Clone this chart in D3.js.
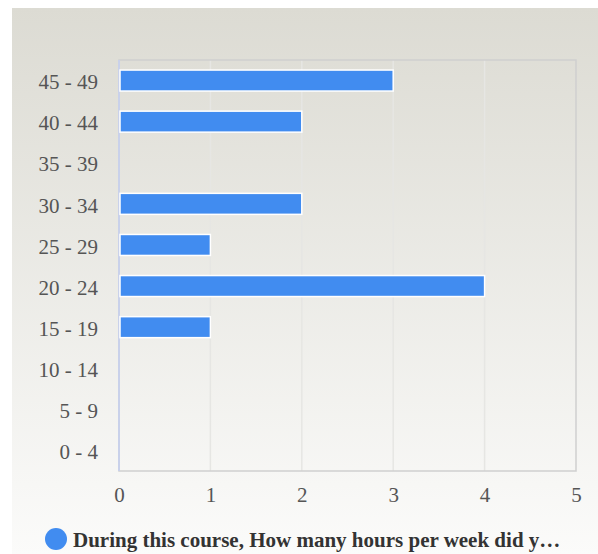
<!DOCTYPE html>
<html>
<head>
<meta charset="utf-8">
<script src="https://cdn.jsdelivr.net/npm/d3@7"></script>
<style>
  body { margin: 0; background: #fff; }
  svg { display: block; }
</style>
</head>
<body>
<div id="chart"></div>
<script>
// hour ranges, top to bottom
var categories = ["45 - 49", "40 - 44", "35 - 39", "30 - 34", "25 - 29",
                  "20 - 24", "15 - 19", "10 - 14", "5 - 9", "0 - 4"];
var counts = [3, 2, 0, 2, 1, 4, 1, 0, 0, 0];
var xTicks = [0, 1, 2, 3, 4, 5];
var seriesName = "During this course, How many hours per week did y\u2026";

var width = 598, height = 554;
var margin = {top: 60, right: 22, bottom: 83, left: 119};
var font = "'Liberation Serif', 'Times New Roman', serif";

var svg = d3.select("#chart").append("svg")
    .attr("width", width)
    .attr("height", height);

// background gradient
var grad = svg.append("defs").append("linearGradient")
    .attr("id", "bg").attr("x1", 0).attr("y1", 0).attr("x2", 0).attr("y2", 1);
grad.append("stop").attr("offset", "0%").attr("stop-color", "#dcdbd3");
grad.append("stop").attr("offset", "100%").attr("stop-color", "#fbfbfa");

svg.append("rect")
    .attr("x", 12).attr("y", 8)
    .attr("width", width - 12).attr("height", height - 8)
    .attr("fill", "url(#bg)");

var x = d3.scaleLinear()
    .domain([0, 5])
    .range([margin.left, width - margin.right]);

var y = d3.scaleBand()
    .domain(categories)
    .range([margin.top, height - margin.bottom]);

// gridlines
svg.append("g").selectAll("line").data(xTicks.slice(1, -1))
    .enter().append("line")
    .attr("x1", function(d){ return x(d); })
    .attr("x2", function(d){ return x(d); })
    .attr("y1", margin.top)
    .attr("y2", height - margin.bottom)
    .attr("stroke", "#e6e6e3")
    .attr("stroke-width", 1.5);

// plot frame
svg.append("rect")
    .attr("x", margin.left).attr("y", margin.top)
    .attr("width", x(5) - x(0))
    .attr("height", height - margin.bottom - margin.top)
    .attr("fill", "none")
    .attr("stroke", "#cfcfcf")
    .attr("stroke-width", 1.5);

// left axis line
svg.append("line")
    .attr("x1", margin.left).attr("x2", margin.left)
    .attr("y1", margin.top).attr("y2", height - margin.bottom)
    .attr("stroke", "#c9d1ea")
    .attr("stroke-width", 2);

// bars
svg.append("g").selectAll("rect").data(categories)
    .enter().append("rect")
    .attr("x", x(0) + 1)
    .attr("y", function(d){ return y(d) + y.bandwidth() / 2 - 10.5; })
    .attr("width", function(d, i){ return Math.max(0, x(counts[i]) - x(0) - 1); })
    .attr("height", 21)
    .attr("fill", "#418cf0")
    .attr("stroke", function(d, i){ return counts[i] > 0 ? "#fff" : "none"; })
    .attr("stroke-width", 1.5);

// y axis labels
var yAxis = d3.axisLeft(y).tickSize(0).tickPadding(21);
svg.append("g")
    .attr("transform", "translate(" + margin.left + ",2)")
    .call(yAxis)
    .call(function(g){ g.select(".domain").remove(); })
    .attr("font-family", font)
    .attr("font-size", 21)
    .selectAll("text")
    .attr("fill", "#555");

// x axis labels
var xAxis = d3.axisBottom(x).tickValues(xTicks).tickFormat(d3.format("d"))
    .tickSize(0).tickPadding(16);
svg.append("g")
    .attr("transform", "translate(0," + (height - margin.bottom) + ")")
    .call(xAxis)
    .call(function(g){ g.select(".domain").remove(); })
    .attr("font-family", font)
    .attr("font-size", 21)
    .selectAll("text")
    .attr("fill", "#555");

// legend
svg.append("circle")
    .attr("cx", 56).attr("cy", 539).attr("r", 11)
    .attr("fill", "#418cf0");

svg.append("text")
    .attr("x", 73).attr("y", 547)
    .attr("font-family", font)
    .attr("font-size", 21)
    .attr("font-weight", "bold")
    .attr("fill", "#333")
    .text(seriesName);
</script>
</body>
</html>
